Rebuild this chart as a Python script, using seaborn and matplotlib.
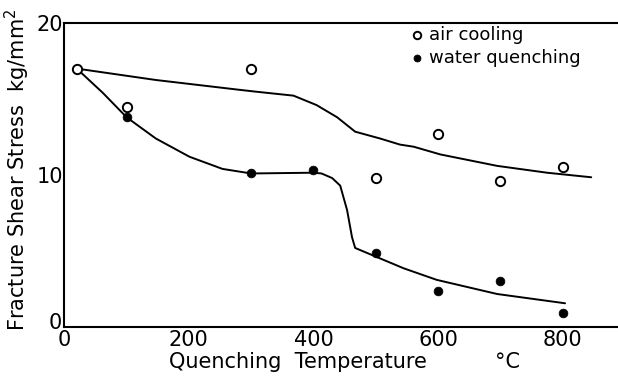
import matplotlib
matplotlib.use("Agg")
import matplotlib.pyplot as plt
import matplotlib.transforms as mtransforms
import seaborn as sns
import pandas as pd

# measured points
air_temps = [20, 100, 300, 500, 600, 700, 800]
air_stress = [17.0, 14.5, 17.0, 9.8, 12.7, 9.6, 10.5]
water_temps = [100, 300, 400, 500, 600, 700, 800]
water_stress = [13.8, 10.1, 10.3, 4.85, 2.4, 3.0, 0.95]

# hand-drawn trend curves
air_curve_x = [20, 147, 282, 308, 368, 405, 438, 467, 507, 539, 561, 604, 695, 775, 846]
air_curve_y = [17.0, 16.25, 15.6, 15.48, 15.22, 14.6, 13.8, 12.85, 12.4, 12.0, 11.86, 11.35, 10.6, 10.15, 9.85]
water_curve_x = [20, 62, 100, 147, 201, 254, 300, 400, 413, 430, 443, 454, 462, 467, 496, 545, 598, 695, 804]
water_curve_y = [17.0, 15.4, 13.8, 12.4, 11.2, 10.4, 10.1, 10.15, 10.1, 9.8, 9.3, 7.7, 5.9, 5.2, 4.7, 3.86, 3.1, 2.17, 1.56]

xticks = [0, 200, 400, 600, 800]
minor_xticks = [100, 300, 500, 700]
yticks = [0, 10, 20]

sns.set_style("white")
plt.rcParams['font.family'] = ['DejaVu Sans']
plt.rcParams['text.color'] = 'black'
plt.rcParams['axes.labelcolor'] = 'black'

fig = plt.figure(figsize=(6.18, 3.80), dpi=100)
ax = fig.add_axes([0.104, 0.1395, 0.896, 0.80])

sns.lineplot(x=air_curve_x, y=air_curve_y, ax=ax, color='black', lw=1.4, sort=False, estimator=None)
sns.lineplot(x=water_curve_x, y=water_curve_y, ax=ax, color='black', lw=1.4, sort=False, estimator=None)

sns.scatterplot(x=air_temps, y=air_stress, ax=ax, marker='o', s=45, facecolor='white',
                edgecolor='black', linewidth=1.4, label='air cooling', zorder=5)
sns.scatterplot(x=water_temps, y=water_stress, ax=ax, marker='o', s=40, color='black',
                edgecolor='black', linewidth=0.5, label='water quenching', zorder=5)

ax.set_xlim(0, 889)
ax.set_ylim(0, 20)
ax.set_xticks(xticks)
ax.set_xticks(minor_xticks, minor=True)
ax.set_yticks(yticks)
ax.set_xticklabels([str(t) for t in xticks])
ax.set_yticklabels([str(t) for t in yticks])
ax.tick_params(axis='both', which='both', direction='in', length=6, width=1.0,
               labelsize=15, color='black', labelcolor='black')
ax.tick_params(axis='x', which='both', pad=2)
ax.tick_params(axis='y', which='both', pad=1)

# nudge the y "0" label up slightly so it clears the x "0" label
ylab0 = ax.get_yticklabels()[0]
ylab0.set_transform(ylab0.get_transform() +
                    mtransforms.ScaledTranslation(-1 / 72, 4 / 72, fig.dpi_scale_trans))

for side in ['left', 'bottom', 'top']:
    ax.spines[side].set_color('black')
    ax.spines[side].set_linewidth(1.5)
ax.spines['right'].set_visible(False)

ax.set_xlabel("Quenching  Temperature", fontsize=15, color='black')
ax.xaxis.set_label_coords(0.4227, -0.082)
ax.text(711, -0.082, "\u00b0C", transform=ax.get_xaxis_transform(), fontsize=15,
        ha='center', va='top', color='black')
ax.set_ylabel("Fracture Shear Stress  kg/mm$^2$", fontsize=15, color='black')
ax.yaxis.set_label_coords(-0.059, 0.516)

leg = ax.legend(loc='upper left', bbox_to_anchor=(0.594, 1.033), frameon=False,
                fontsize=13, handletextpad=0.1, borderpad=0.2, labelspacing=0.3,
                handlelength=1.2, markerscale=0.8, labelcolor='black')

fig.savefig("out.png", dpi=100)
